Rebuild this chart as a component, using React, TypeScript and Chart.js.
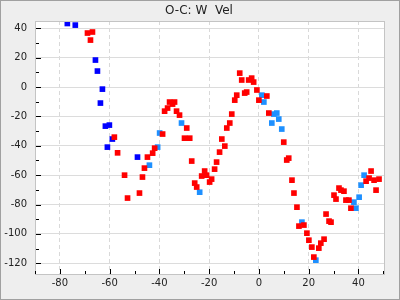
import React, { useEffect, useRef } from "react";
import { Chart, registerables } from "chart.js";

Chart.register(...registerables);

const TITLE = "O-C: W  Vel";

// Dark blue series
const blueX = [-77.0, -73.8, -65.7, -64.9, -62.9, -63.7, -61.7, -60.1, -58.9, -60.9, -48.8];
const blueY = [43.3, 42.2, 18.4, 10.9, -1.4, -10.9, -26.6, -25.9, -35.4, -40.9, -47.7];

// Light blue series
const lightX = [-39.9, -40.7, -44.0, -31.1, -23.8, 1.2, 2.0, 6.0, 7.2, 8.0, 5.2, 9.2, 17.3, 22.9, 42.3, 41.1, 40.3, 38.2, 39.0];
const lightY = [-31.3, -40.9, -53.2, -24.5, -71.6, -5.5, -10.2, -18.4, -17.7, -21.8, -24.5, -28.6, -92.0, -117.9, -60.0, -66.8, -75.0, -78.4, -82.5];

// Red series
const redX = [
  -68.9, -66.9, -67.7, -58.1, -56.8, -41.9, -44.8, -42.7, -46.0, -54.0, -46.8, -48.0, -52.8,
  -38.7, -37.9, -36.7, -35.9, -34.7, -33.9, -33.1, -31.9, -29.0, -29.9, -27.8, -27.0,
  -21.8, -23.0, -21.0, -25.8, -25.0, -19.8, -19.0, -17.8, -17.0, -15.8, -13.7, -14.9,
  -12.9, -11.7, -10.9, -9.7, -8.9, -7.7, -6.9, -5.7, -4.9, -4.1, -2.9, -2.1, -0.8, 0.0,
  3.2, 4.0, 10.0, 12.0, 11.2, 13.3, 14.1, 15.3, 16.1, 18.1, 19.3, 20.1, 21.3, 22.1, 24.1,
  24.9, 26.2, 27.0, 28.2, 29.0, 30.2, 31.0, 32.2, 33.0, 34.2, 35.0, 36.2, 37.0,
  45.1, 44.3, 43.1, 46.3, 48.3, 47.1,
];
const redY = [
  36.8, 37.5, 32.0, -34.1, -44.8, -41.6, -47.7, -45.0, -55.2, -60.0, -61.3, -72.2, -75.6,
  -32.0, -16.4, -14.3, -10.2, -11.6, -10.2, -16.4, -19.1, -27.9, -34.8, -34.8, -50.4,
  -57.2, -60.6, -60.0, -65.4, -68.1, -64.7, -62.7, -55.9, -51.1, -44.3, -40.2, -35.4,
  -27.9, -24.5, -18.4, -8.9, -5.5, 9.5, 4.8, -4.1, -3.4, 4.8, 6.1, 3.4, -2.0, -8.9,
  -6.1, -17.7, -37.5, -48.4, -49.7, -63.4, -72.2, -81.8, -94.7, -94.0, -99.5, -104.3, -109.0, -115.8, -109.7,
  -106.3, -103.6, -86.5, -91.3, -92.0, -73.6, -76.3, -68.8, -70.2, -70.9, -77.0, -77.0, -82.5,
  -57.2, -62.0, -64.1, -63.4, -62.7, -70.2,
];

const X_MIN = -90;
const X_MAX = 50.7;
const Y_MIN = -128;
const Y_MAX = 45;
const STEP = 10;
const LABEL_STEP = 20;

const toPoints = (xs: number[], ys: number[]) => xs.map((x, i) => ({ x, y: ys[i] }));

const isMajor = (v: number) => Math.round(v) % LABEL_STEP === 0;

const framePlugin = {
  id: "frame",
  beforeDraw(chart: any) {
    const { ctx, chartArea } = chart;
    ctx.save();
    ctx.fillStyle = "#ffffff";
    ctx.fillRect(chartArea.left, chartArea.top, chartArea.right - chartArea.left, chartArea.bottom - chartArea.top);
    ctx.restore();
  },
  afterDraw(chart: any) {
    const { ctx, chartArea } = chart;
    const xs = chart.scales.x;
    const ys = chart.scales.y;
    ctx.save();
    // frame
    ctx.strokeStyle = "#c4c4c4";
    ctx.lineWidth = 1;
    ctx.strokeRect(
      Math.round(chartArea.left) + 0.5,
      Math.round(chartArea.top) + 0.5,
      Math.round(chartArea.right - chartArea.left) - 1,
      Math.round(chartArea.bottom - chartArea.top) - 1
    );
    // tick marks, drawn inside the plot area
    ctx.strokeStyle = "#000000";
    ctx.beginPath();
    ys.ticks.forEach((t: any) => {
      const py = Math.round(ys.getPixelForValue(t.value)) + 0.5;
      const len = isMajor(t.value) ? 5 : 3;
      const left = Math.round(chartArea.left) + 1;
      ctx.moveTo(left, py);
      ctx.lineTo(left + len, py);
    });
    xs.ticks.forEach((t: any) => {
      const px = Math.round(xs.getPixelForValue(t.value)) + 0.5;
      const len = isMajor(t.value) ? 5 : 3;
      const bottom = Math.round(chartArea.bottom) - 1;
      ctx.moveTo(px, bottom);
      ctx.lineTo(px, bottom - len);
    });
    ctx.stroke();
    // title
    ctx.fillStyle = "#222222";
    ctx.font = "12px 'DejaVu Sans'";
    ctx.textAlign = "center";
    ctx.textBaseline = "middle";
    ctx.fillText(TITLE, 198, 10);
    ctx.restore();
  },
};

export default function App() {
  const ref = useRef<HTMLCanvasElement | null>(null);

  useEffect(() => {
    if (!ref.current) return;
    const pointOpts = { pointStyle: "rect", pointRadius: 4, borderWidth: 0, showLine: false };
    const chart = new Chart(ref.current, {
      type: "scatter",
      data: {
        datasets: [
          { label: "red", data: toPoints(redX, redY), backgroundColor: "#ff0000", borderColor: "#ff0000", ...pointOpts },
          { label: "light", data: toPoints(lightX, lightY), backgroundColor: "#1e90ff", borderColor: "#1e90ff", ...pointOpts },
          { label: "blue", data: toPoints(blueX, blueY), backgroundColor: "#0000ff", borderColor: "#0000ff", ...pointOpts },
        ],
      } as any,
      options: {
        animation: false,
        responsive: false,
        layout: { padding: { top: 20, right: 14, left: 0, bottom: 0 } },
        plugins: { legend: { display: false }, title: { display: false }, tooltip: { enabled: false } },
        scales: {
          x: {
            type: "linear",
            min: X_MIN,
            max: X_MAX,
            afterFit: (s: any) => {
              s.height = 24;
            },
            border: { display: false, dash: [4, 3] },
            grid: {
              drawTicks: false,
              color: (c: any) => (c.tick && isMajor(c.tick.value) ? "#d9d9d9" : "rgba(0,0,0,0)"),
            },
            ticks: {
              stepSize: STEP,
              includeBounds: false,
              autoSkip: false,
              maxRotation: 0,
              padding: 2,
              color: "#222222",
              font: { family: "'DejaVu Sans'", size: 10 },
              callback: (v: any) => (isMajor(Number(v)) ? String(Math.round(Number(v))) : ""),
            },
          },
          y: {
            type: "linear",
            min: Y_MIN,
            max: Y_MAX,
            afterFit: (s: any) => {
              s.width = 34;
            },
            border: { display: false },
            grid: {
              drawTicks: false,
              color: (c: any) => (c.tick && isMajor(c.tick.value) ? "#dcdcdc" : "rgba(0,0,0,0)"),
            },
            ticks: {
              stepSize: STEP,
              includeBounds: false,
              autoSkip: false,
              padding: 8,
              color: "#222222",
              font: { family: "'DejaVu Sans'", size: 10 },
              callback: (v: any) => (isMajor(Number(v)) ? String(Math.round(Number(v))) : ""),
            },
          },
        },
      } as any,
      plugins: [framePlugin],
    });
    return () => chart.destroy();
  }, []);

  return (
    <div
      style={{
        position: "absolute",
        left: 0,
        top: 0,
        width: 400,
        height: 300,
        boxSizing: "border-box",
        border: "1px solid #a0a0a0",
        background: "#eeeeee",
      }}
    >
      <canvas ref={ref} width={398} height={298} style={{ display: "block" }} />
    </div>
  );
}
